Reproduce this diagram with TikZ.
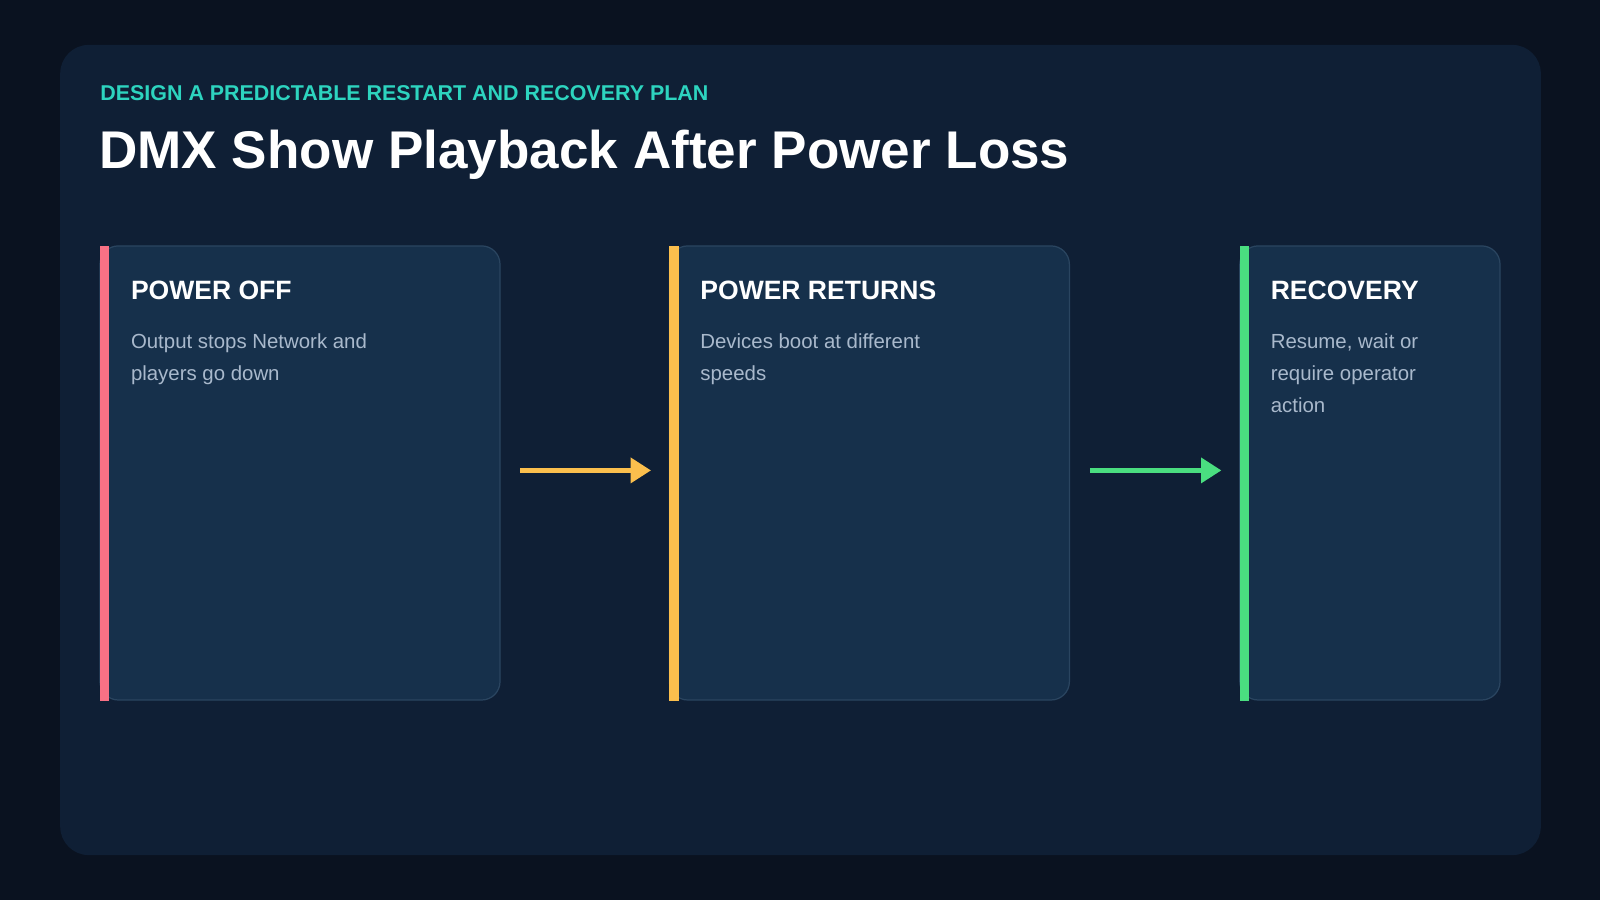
\documentclass[tikz,border=0pt]{standalone}
\usepackage{fontspec}
\setmainfont{Liberation Sans}
\usetikzlibrary{arrows.meta}
\definecolor{bg}{HTML}{0A1220}
\definecolor{panel}{HTML}{0F1F35}
\definecolor{card}{HTML}{16304B}
\definecolor{cardline}{HTML}{2A4560}
\definecolor{teal}{HTML}{2DD4BF}
\definecolor{body}{HTML}{A9B9CC}
\definecolor{cred}{HTML}{F87185}
\definecolor{corange}{HTML}{FBBF4D}
\definecolor{cgreen}{HTML}{4ADE80}
\tikzset{
 card/.style={fill=card,draw=cardline,line width=0.6pt,rounded corners=9pt},
 ctitle/.style={anchor=west,text=white,font=\fontsize{13}{15}\selectfont\bfseries,inner sep=0pt},
 cbody/.style={anchor=north west,text=body,font=\fontsize{10}{15.5}\selectfont,inner sep=0pt,align=left},
 flow/.style={line width=2.5pt,-{Triangle[length=10pt,width=12pt]}}
}
\begin{document}
\begin{tikzpicture}[x=0.5pt,y=-0.5pt]
\useasboundingbox (0,0) rectangle (1568,882);
\fill[bg] (0,0) rectangle (1568,882);
\fill[panel,rounded corners=14pt] (59,44) rectangle (1510,838);
\node[anchor=west,inner sep=0pt,text=teal,font=\fontsize{10.5}{12}\selectfont\bfseries] (sub) at (98,91) {DESIGN A PREDICTABLE RESTART AND RECOVERY PLAN};
\node[anchor=west,inner sep=0pt,text=white,font=\fontsize{26}{30}\selectfont\bfseries] (title) at (97,152) {DMX Show Playback After Power Loss};
% cards
\draw[card] (98,241) rectangle (490,686);
\fill[cred] (98,241) rectangle (107,687);
\node[ctitle] (t1) at (128,285) {POWER OFF};
\node[cbody] (b1) at (128,327) {Output stops Network and\\players go down};
\draw[card] (656,241) rectangle (1048,686);
\fill[corange] (656,241) rectangle (665,687);
\node[ctitle] (t2) at (686,285) {POWER RETURNS};
\node[cbody] (b2) at (686,327) {Devices boot at different\\speeds};
\draw[card] (1215,241) rectangle (1470,686);
\fill[cgreen] (1215,241) rectangle (1224,687);
\node[ctitle] (t3) at (1245,285) {RECOVERY};
\node[cbody] (b3) at (1245,327) {Resume, wait or\\require operator\\action};
\coordinate (a1s) at (510,461); \coordinate (a1e) at (638,461);
\coordinate (a2s) at (1068,461); \coordinate (a2e) at (1197,461);
\draw[flow,corange] (a1s) -- (a1e);
\draw[flow,cgreen] (a2s) -- (a2e);
\end{tikzpicture}
\end{document}
